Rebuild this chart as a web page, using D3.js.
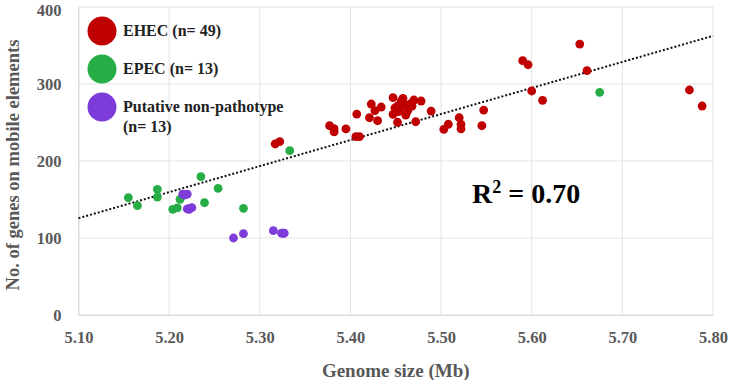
<!DOCTYPE html>
<html>
<head>
<meta charset="utf-8">
<script src="https://cdn.jsdelivr.net/npm/d3@7"></script>
<style>
  body { margin: 0; background: #fff; }
  svg { display: block; }
  text { font-family: "Liberation Serif", "Times New Roman", serif; font-weight: bold; }
</style>
</head>
<body>
<div id="chart"></div>
<script>
// genome size (Mb) and no. of genes on mobile elements
const ehecSize = [5.377, 5.382, 5.382, 5.395, 5.407, 5.406, 5.410, 5.423, 5.427, 5.421,
  5.430, 5.434, 5.447, 5.458, 5.470, 5.478, 5.455, 5.460, 5.464, 5.453,
  5.447, 5.461, 5.452, 5.472, 5.489, 5.503, 5.508, 5.520, 5.522, 5.522,
  5.545, 5.547, 5.590, 5.596, 5.600, 5.612, 5.653, 5.661, 5.774, 5.788,
  5.317, 5.322, 5.458, 5.466, 5.452, 5.463, 5.456, 5.468, 5.449];
const ehecGenes = [245.8, 242, 237.7, 241.6, 261, 231.6, 231.6, 274, 265.3, 256.2,
  252.3, 270.1, 282.2, 281.4, 279.2, 277.9, 269.2, 272.7, 268.4, 264,
  260.6, 259.7, 250.3, 251, 264.9, 241.2, 247.7, 256.2, 247.7, 241.6,
  245.8, 266.2, 330.3, 325, 290.9, 278.8, 351.9, 317.3, 292.2, 271.4,
  222.1, 225.1, 275.3, 274, 271.4, 264.9, 277.9, 271.4, 268.8];

const epecSize = [5.155, 5.165, 5.187, 5.187, 5.212, 5.204, 5.209, 5.235, 5.239, 5.254, 5.282, 5.333, 5.675];
const epecGenes = [152.3, 142, 163.2, 153.2, 150.3, 137.3, 139, 179.6, 145.8, 164.5, 138.6, 213.4, 289.2];

const nonSize = [5.215, 5.220, 5.217, 5.222, 5.225, 5.223, 5.271, 5.282, 5.315, 5.324, 5.327, 5.326, 5.220];
const nonGenes = [157.1, 157.1, 155.8, 137.3, 139.4, 138.3, 100, 105.6, 109.5, 106.2, 106.2, 106.2, 137.7];

const groupNames = ["EHEC (n= 49)", "EPEC (n= 13)", "Putative non-pathotype"];
const groupColors = ["#c00000", "#27ad45", "#7d3cd9"];

const xTicks = [5.10, 5.20, 5.30, 5.40, 5.50, 5.60, 5.70, 5.80];
const yTicks = [0, 100, 200, 300, 400];

// linear trend end points and fit label
const trendX = [5.10, 5.80];
const trendY = [125.7, 362.5];
const rSquared = "0.70";

const width = 730, height = 380;
const margin = { top: 7, right: 17, bottom: 65, left: 78.5 };

const svg = d3.select("#chart").append("svg")
  .attr("width", width)
  .attr("height", height);

const x = d3.scaleLinear().domain([5.10, 5.80]).range([margin.left, width - margin.right]);
const y = d3.scaleLinear().domain([0, 400]).range([height - margin.bottom, margin.top]);

// grid
const grid = svg.append("g");
grid.selectAll(".vg").data(xTicks).enter().append("line")
  .attr("x1", d => x(d)).attr("x2", d => x(d))
  .attr("y1", y(0)).attr("y2", y(400))
  .attr("stroke", "#e3e3e3").attr("stroke-width", 1);
grid.selectAll(".hg").data(yTicks).enter().append("line")
  .attr("x1", x(5.10)).attr("x2", x(5.80))
  .attr("y1", d => y(d)).attr("y2", d => y(d))
  .attr("stroke", "#e3e3e3").attr("stroke-width", 1);

// axes (tick labels only)
const xAxis = svg.append("g")
  .attr("transform", `translate(0,${y(0)})`)
  .call(d3.axisBottom(x).tickValues(xTicks).tickFormat(d3.format(".2f")).tickSize(0).tickPadding(16));
const yAxis = svg.append("g")
  .attr("transform", `translate(${x(5.10)},0)`)
  .call(d3.axisLeft(y).tickValues(yTicks).tickSize(0).tickPadding(17));
[xAxis, yAxis].forEach(a => {
  a.select(".domain").attr("stroke", "#d9d9d9");
  a.selectAll("text")
    .attr("fill", "#595959")
    .style("font-size", "16.5px")
    .style("font-family", "Liberation Serif, serif")
    .style("font-weight", "bold");
});
yAxis.selectAll(".tick").filter(d => d === 400).select("text").attr("dy", "0.5em");

svg.append("text")
  .attr("x", (x(5.10) + x(5.80)) / 2)
  .attr("y", 377)
  .attr("text-anchor", "middle")
  .attr("fill", "#595959")
  .style("font-size", "19px")
  .text("Genome size (Mb)");

svg.append("text")
  .attr("transform", `translate(19,${(y(0) + y(400)) / 2 + 4}) rotate(-90)`)
  .attr("text-anchor", "middle")
  .attr("fill", "#595959")
  .style("font-size", "18.5px")
  .text("No. of genes on mobile elements");

// trend line
svg.append("line")
  .attr("x1", x(trendX[0])).attr("y1", y(trendY[0]))
  .attr("x2", x(trendX[1])).attr("y2", y(trendY[1]))
  .attr("stroke", "#111")
  .attr("stroke-width", 2)
  .attr("stroke-dasharray", "2,2");

// points
const groups = [
  { sizes: ehecSize, genes: ehecGenes, color: groupColors[0] },
  { sizes: epecSize, genes: epecGenes, color: groupColors[1] },
  { sizes: nonSize, genes: nonGenes, color: groupColors[2] }
];
groups.forEach(g => {
  svg.append("g").selectAll("circle")
    .data(g.sizes.map((s, i) => [s, g.genes[i]]))
    .enter().append("circle")
    .attr("cx", d => x(d[0]))
    .attr("cy", d => y(d[1]))
    .attr("r", 4.4)
    .attr("fill", g.color);
});

// R squared
const rt = svg.append("text")
  .attr("x", 472).attr("y", 203)
  .attr("fill", "#000")
  .style("font-size", "28px");
rt.append("tspan").text("R");
rt.append("tspan").attr("dy", -10).style("font-size", "18px").text("2");
rt.append("tspan").attr("dy", 10).text(" = " + rSquared);

// legend
const legend = svg.append("g");
groupNames.forEach((name, i) => {
  const cy = 31 + i * 38;
  legend.append("circle")
    .attr("cx", 102).attr("cy", cy).attr("r", 14.5)
    .attr("fill", groupColors[i]);
  legend.append("text")
    .attr("x", 123).attr("y", cy + 5)
    .attr("fill", "#222")
    .style("font-size", "16px")
    .text(name);
});
legend.append("text")
  .attr("x", 123).attr("y", 31 + 2 * 38 + 25)
  .attr("fill", "#222")
  .style("font-size", "16px")
  .text("(n= 13)");
</script>
</body>
</html>
